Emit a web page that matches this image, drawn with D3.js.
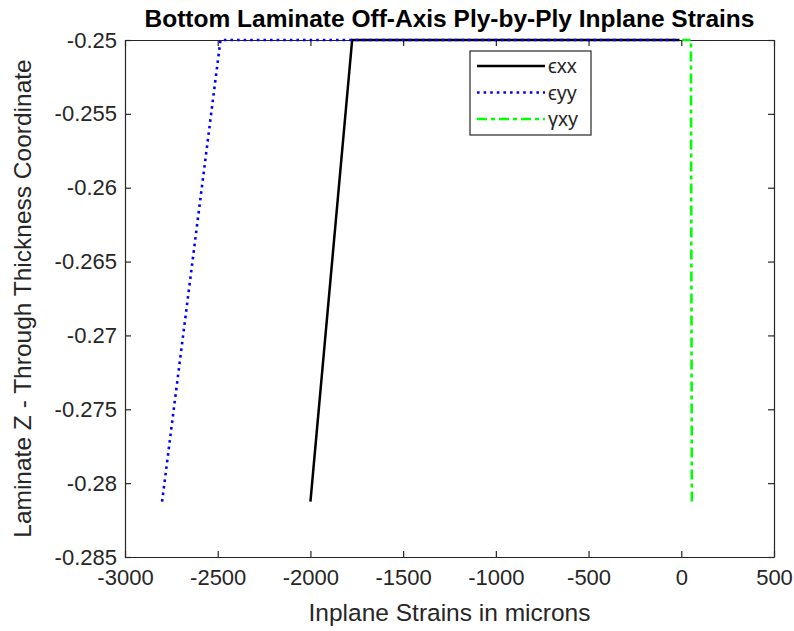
<!DOCTYPE html>
<html>
<head>
<meta charset="utf-8">
<script src="https://cdn.jsdelivr.net/npm/d3@7"></script>
<style>
  body { margin: 0; background: #ffffff; }
  text { font-family: "Liberation Sans", Arial, sans-serif; }
</style>
</head>
<body>
<script>
var SVG_WIDTH = 794;
var SVG_HEIGHT = 631;

var margin = {left: 125, right: 20, top: 40, bottom: 74};

// ply interface z coordinates and strains (microns) at each point
var z_values = [-0.28125, -0.25, -0.25];
var exx_values = [-2000, -1775, -10];
var eyy_values = [-2800, -2485, -10];
var gxy_values = [57, 52, 5];

var x_ticks = [-3000, -2500, -2000, -1500, -1000, -500, 0, 500];
var y_ticks = [-0.25, -0.255, -0.26, -0.265, -0.27, -0.275, -0.28, -0.285];

var series_names = ["\u03f5xx", "\u03f5yy", "\u03b3xy"];
var series_colors = ["#000000", "#0000ff", "#00ff00"];
var series_dash = [null, "2.6,4", "10,4,4,4"];
var series_width = [2.5, 2.6, 2.6];

var axis_color = "#262626";

var svg = d3.select("body").append("svg")
              .attr("width", SVG_WIDTH)
              .attr("height", SVG_HEIGHT);

var plot_w = SVG_WIDTH - margin.left - margin.right;
var plot_h = SVG_HEIGHT - margin.top - margin.bottom;

var x = d3.scaleLinear().domain([-3000, 500]).range([margin.left, margin.left + plot_w]);
var y = d3.scaleLinear().domain([-0.285, -0.25]).range([margin.top + plot_h, margin.top]);

// background of axes
svg.append("rect")
    .attr("x", margin.left).attr("y", margin.top)
    .attr("width", plot_w).attr("height", plot_h)
    .style("fill", "#ffffff");

// axes, ticks pointing inwards on all four sides
svg.append("g")
    .attr("transform", "translate(0," + (margin.top + plot_h) + ")")
    .call(d3.axisBottom(x).tickValues(x_ticks).tickSizeInner(-6).tickSizeOuter(0).tickPadding(12)
            .tickFormat(function(d) { return String(d); }));

svg.append("g")
    .attr("transform", "translate(0," + margin.top + ")")
    .call(d3.axisTop(x).tickValues(x_ticks).tickSizeInner(-6).tickSizeOuter(0).tickFormat(""));

svg.append("g")
    .attr("transform", "translate(" + margin.left + ",0)")
    .call(d3.axisLeft(y).tickValues(y_ticks).tickSizeInner(-6).tickSizeOuter(0).tickPadding(8)
            .tickFormat(function(d) { return String(+d.toFixed(3)); }));

svg.append("g")
    .attr("transform", "translate(" + (margin.left + plot_w) + ",0)")
    .call(d3.axisRight(y).tickValues(y_ticks).tickSizeInner(-6).tickSizeOuter(0).tickFormat(""));

svg.selectAll(".domain, .tick line").style("stroke", axis_color).style("stroke-width", 1.2);
svg.selectAll(".tick text")
    .style("font-size", "22px")
    .style("fill", axis_color)
    .style("font-family", "'Liberation Sans', Arial, sans-serif");

// data lines
var all_series = [exx_values, eyy_values, gxy_values];

var line = d3.line()
    .x(function(d) { return x(d[0]); })
    .y(function(d) { return y(d[1]); });

all_series.forEach(function(vals, i) {
  var pts = vals.map(function(v, j) { return [v, z_values[j]]; });
  svg.append("path")
      .datum(pts)
      .attr("d", line)
      .style("fill", "none")
      .style("stroke", series_colors[i])
      .style("stroke-width", series_width[i])
      .style("stroke-dasharray", series_dash[i]);
});

// title and labels
svg.append("text")
    .attr("x", margin.left + plot_w / 2)
    .attr("y", 27)
    .attr("text-anchor", "middle")
    .style("font-size", "24.5px")
    .style("font-weight", "bold")
    .style("fill", "#000000")
    .text("Bottom Laminate Off-Axis Ply-by-Ply Inplane Strains");

svg.append("text")
    .attr("x", margin.left + plot_w / 2)
    .attr("y", 621)
    .attr("text-anchor", "middle")
    .style("font-size", "24.5px")
    .style("fill", axis_color)
    .text("Inplane Strains in microns");

svg.append("text")
    .attr("transform", "translate(31," + (margin.top + plot_h / 2) + ") rotate(-90)")
    .attr("text-anchor", "middle")
    .style("font-size", "24.5px")
    .style("fill", axis_color)
    .text("Laminate Z - Through Thickness Coordinate");

// legend
var legend = svg.append("g").attr("transform", "translate(470,51)");

legend.append("rect")
    .attr("width", 121).attr("height", 84)
    .style("fill", "#ffffff")
    .style("stroke", axis_color)
    .style("stroke-width", 1.2);

series_names.forEach(function(name, i) {
  var ry = 15 + i * 26.5;
  legend.append("line")
      .attr("x1", 7).attr("x2", 75)
      .attr("y1", ry).attr("y2", ry)
      .style("stroke", series_colors[i])
      .style("stroke-width", series_width[i])
      .style("stroke-dasharray", series_dash[i]);
  legend.append("text")
      .attr("x", 78).attr("y", ry + 7)
      .style("font-size", "20px")
      .style("fill", axis_color)
      .text(name);
});
</script>
</body>
</html>
